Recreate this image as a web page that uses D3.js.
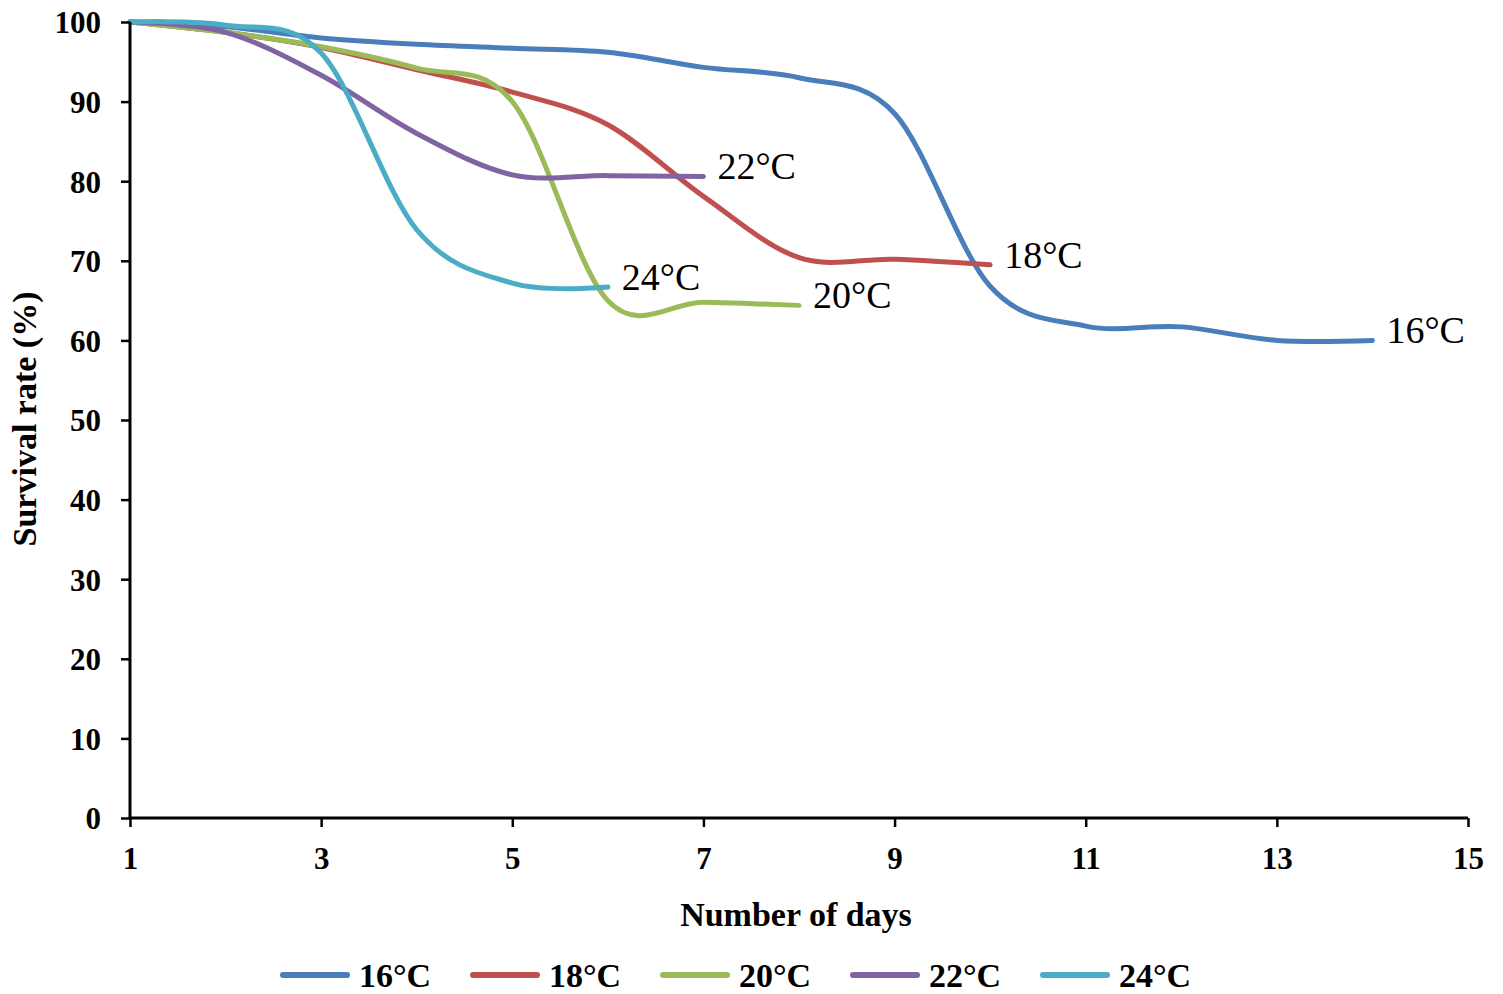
<!DOCTYPE html>
<html>
<head>
<meta charset="utf-8">
<script src="https://cdn.jsdelivr.net/npm/d3@7"></script>
<style>
  html, body { margin: 0; padding: 0; background: #fff; }
  svg { display: block; }
</style>
</head>
<body>
<svg id="chart" width="1503" height="994"></svg>
<script>
// ---- Data ----
const seriesNames = ["16°C", "18°C", "20°C", "22°C", "24°C"];
const seriesColors = ["#4A7EBB", "#C0504D", "#9BBB59", "#8064A2", "#4BACC6"];
const days16 = [1, 2, 3, 4, 5, 6, 7, 8, 9, 10, 11, 12, 13, 14];
const values16 = [100, 99.4, 98.0, 97.2, 96.7, 96.2, 94.3, 93.0, 88.5, 66.8, 61.8, 61.7, 60.0, 60.0];
const days18 = [1, 2, 3, 4, 5, 6, 7, 8, 9, 10];
const values18 = [100, 98.7, 96.8, 94.0, 91.2, 87.1, 78.1, 70.4, 70.2, 69.5];
const days20 = [1, 2, 3, 4, 5, 6, 7, 8];
const values20 = [100, 98.7, 96.9, 94.2, 90.0, 65.0, 64.8, 64.4];
const days22 = [1, 2, 3, 4, 5, 6, 7];
const values22 = [100, 98.7, 93.3, 86.0, 80.8, 80.7, 80.6];
const days24 = [1, 2, 3, 4, 5, 6];
const values24 = [100, 99.6, 96.1, 73.9, 67.2, 66.7];
const xTicks = [1, 3, 5, 7, 9, 11, 13, 15];
const yTicks = [0, 10, 20, 30, 40, 50, 60, 70, 80, 90, 100];
const xTitle = "Number of days";
const yTitle = "Survival rate (%)";

const allDays = [days16, days18, days20, days22, days24];
const allValues = [values16, values18, values20, values22, values24];
const series = seriesNames.map((name, i) => ({
  name, color: seriesColors[i],
  points: allDays[i].map((d, j) => ({ day: d, value: allValues[i][j] }))
}));

// ---- Layout ----
const svg = d3.select("#chart");
const x = d3.scaleLinear().domain([1, 15]).range([130, 1468]);
const y = d3.scaleLinear().domain([0, 100]).range([818, 22]);
const serif = "'Liberation Serif', 'Times New Roman', serif";

// Lines
const line = d3.line()
  .x(d => x(d.day))
  .y(d => y(d.value))
  .curve(d3.curveCardinal.tension(0));

const gLines = svg.append("g");
series.forEach(s => {
  gLines.append("path")
    .datum(s.points)
    .attr("fill", "none")
    .attr("stroke", s.color)
    .attr("stroke-width", 5)
    .attr("stroke-linecap", "round")
    .attr("stroke-linejoin", "round")
    .attr("d", line);
});

// End labels
series.forEach(s => {
  const last = s.points[s.points.length - 1];
  svg.append("text")
    .attr("x", x(last.day) + 14)
    .attr("y", y(last.value) - 10)
    .attr("dominant-baseline", "central")
    .attr("font-family", serif)
    .attr("font-size", 38)
    .attr("fill", "#000")
    .text(s.name);
});

// Axes
const xAxis = d3.axisBottom(x).tickValues(xTicks).tickSize(9).tickPadding(20).tickFormat(d3.format("d"));
const yAxis = d3.axisLeft(y).tickValues(yTicks).tickSize(9).tickPadding(20).tickFormat(d3.format("d"));

const gx = svg.append("g").attr("transform", "translate(0,818)").call(xAxis);
const gy = svg.append("g").attr("transform", "translate(130,0)").call(yAxis);

[gx, gy].forEach(g => {
  g.select(".domain").attr("stroke", "#000").attr("stroke-width", 3);
  g.selectAll(".tick line").attr("stroke", "#000").attr("stroke-width", 2.5);
  g.selectAll(".tick text")
    .attr("font-family", serif)
    .attr("font-weight", "bold")
    .attr("font-size", 31)
    .attr("fill", "#000");
});
gy.selectAll(".tick text").attr("dy", "0.35em");
gx.select(".domain").attr("d", `M${x(1)},0H${x(15)}`);
gy.select(".domain").attr("d", `M0,${y(100)}V${y(0)}`);

// Axis titles
svg.append("text")
  .attr("x", 796).attr("y", 926)
  .attr("text-anchor", "middle")
  .attr("font-family", serif).attr("font-weight", "bold").attr("font-size", 34)
  .text(xTitle);

svg.append("text")
  .attr("transform", "translate(36,419) rotate(-90)")
  .attr("text-anchor", "middle")
  .attr("font-family", serif).attr("font-weight", "bold").attr("font-size", 34)
  .text(yTitle);

// Legend
const legend = svg.append("g");
series.forEach((s, i) => {
  const lx = 283 + i * 190;
  const ly = 975;
  legend.append("line")
    .attr("x1", lx).attr("x2", lx + 64)
    .attr("y1", ly).attr("y2", ly)
    .attr("stroke", s.color).attr("stroke-width", 6).attr("stroke-linecap", "round");
  legend.append("text")
    .attr("x", lx + 76).attr("y", ly)
    .attr("dominant-baseline", "central")
    .attr("font-family", serif).attr("font-weight", "bold").attr("font-size", 34)
    .text(s.name);
});
</script>
</body>
</html>
